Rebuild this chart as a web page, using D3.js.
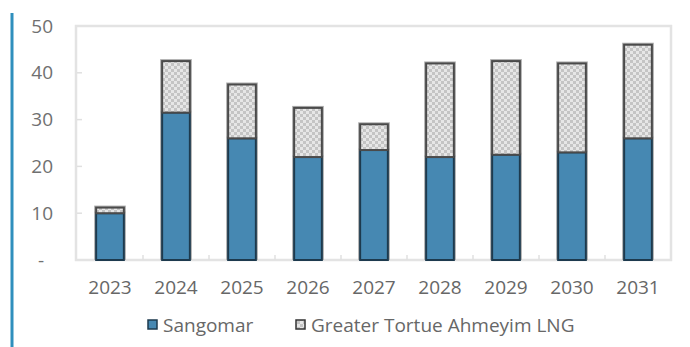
<!DOCTYPE html>
<html>
<head>
<meta charset="utf-8">
<script src="https://cdn.jsdelivr.net/npm/d3@7/dist/d3.min.js"></script>
<style>
  html, body { margin: 0; padding: 0; background: #fff; }
  svg { display: block; }
  text { font-family: "Open Sans", "Noto Sans", sans-serif; }
</style>
</head>
<body>
<svg id="chart" width="690" height="347"></svg>
<script>
// Annual production by field
const years = ["2023", "2024", "2025", "2026", "2027", "2028", "2029", "2030", "2031"];
const sangomar = [10, 31.5, 26, 22, 23.5, 22, 22.5, 23, 26];
const gta = [1.2, 11, 11.5, 10.5, 5.5, 20, 20, 19, 20];
const yTicks = [0, 10, 20, 30, 40, 50];
const seriesNames = ["Sangomar", "Greater Tortue Ahmeyim LNG"];

const svg = d3.select("#chart");
const defs = svg.append("defs");

// Fine checkerboard fill for the LNG series
const pat = defs.append("pattern")
  .attr("id", "checks")
  .attr("patternUnits", "userSpaceOnUse")
  .attr("width", 6).attr("height", 6);
pat.append("rect").attr("width", 6).attr("height", 6).attr("fill", "#e6e6e6");
pat.append("rect").attr("width", 3).attr("height", 3).attr("fill", "#c4c4c4");
pat.append("rect").attr("x", 3).attr("y", 3).attr("width", 3).attr("height", 3).attr("fill", "#c4c4c4");

// Accent rule along the left edge
svg.append("line")
  .attr("x1", 12).attr("x2", 12).attr("y1", 13).attr("y2", 347)
  .attr("stroke", "#2f8fbd").attr("stroke-width", 3);

const x = d3.scaleBand().domain(years).range([77, 671]).paddingInner(0.58).paddingOuter(0.29);
const y = d3.scaleLinear().domain([0, 50]).range([260, 26]);

// Plot frame
svg.append("rect")
  .attr("x", 76).attr("y", y(50)).attr("width", 595).attr("height", y(0) - y(50))
  .attr("fill", "none").attr("stroke", "#e3e3e3").attr("stroke-width", 2.5);

// Small inner ticks on the value axis
svg.append("g").selectAll("line").data(yTicks.slice(1, -1)).join("line")
  .attr("x1", 77).attr("x2", 82)
  .attr("y1", d => y(d)).attr("y2", d => y(d))
  .attr("stroke", "#e0e0e0").attr("stroke-width", 1.5);

// Category separators on the baseline
const step = x.step();
svg.append("g").selectAll("line").data(years.slice(1)).join("line")
  .attr("x1", d => x(d) - (step - x.bandwidth()) / 2)
  .attr("x2", d => x(d) - (step - x.bandwidth()) / 2)
  .attr("y1", 255).attr("y2", 260)
  .attr("stroke", "#e0e0e0").attr("stroke-width", 1.5);

// Value axis labels
const yAxis = d3.axisLeft(y).tickValues(yTicks).tickSize(0)
  .tickFormat(d => d === 0 ? "-" : d3.format("d")(d));
const gy = svg.append("g").attr("transform", "translate(53,0)").call(yAxis);
gy.select(".domain").remove();
gy.selectAll("text")
  .attr("x", d => d === 0 ? -9 : 0)
  .attr("fill", "#707070").style("font-size", "19px")
  .style("font-family", "'Open Sans', sans-serif");

// Category axis labels
const xAxis = d3.axisBottom(x).tickSize(0);
const gx = svg.append("g").attr("transform", "translate(0,280)").call(xAxis);
gx.select(".domain").remove();
gx.selectAll("text")
  .attr("y", 0).attr("dy", "0.75em")
  .attr("fill", "#676767").style("font-size", "19px")
  .style("font-family", "'Open Sans', sans-serif");

// Stacked bars
const data = years.map((yr, i) => ({ year: yr, sangomar: sangomar[i], gta: gta[i] }));
const stack = d3.stack().keys(["sangomar", "gta"])(data);
const fills = { sangomar: "#4688b2", gta: "url(#checks)" };
const strokes = { sangomar: "#1d3a4e", gta: "#4a4a4a" };

// soft grey halo behind each segment
stack.forEach(layer => {
  svg.append("g").selectAll("rect").data(layer).join("rect")
    .attr("x", d => x(d.data.year) - 2)
    .attr("y", d => y(d[1]) - 2)
    .attr("width", x.bandwidth() + 4)
    .attr("height", d => y(d[0]) - y(d[1]) + 2)
    .attr("fill", "#adadad");
});
stack.forEach(layer => {
  svg.append("g").selectAll("rect").data(layer).join("rect")
    .attr("x", d => x(d.data.year))
    .attr("y", d => y(d[1]))
    .attr("width", x.bandwidth())
    .attr("height", d => y(d[0]) - y(d[1]))
    .attr("fill", fills[layer.key])
    .attr("stroke", strokes[layer.key])
    .attr("stroke-width", 2);
});

// Legend
const legend = svg.append("g");
const legendItems = [
  { name: seriesNames[0], x: 148, fill: fills.sangomar, stroke: strokes.sangomar },
  { name: seriesNames[1], x: 296, fill: fills.gta, stroke: "#333" }
];
legendItems.forEach(it => {
  legend.append("rect")
    .attr("x", it.x).attr("y", 320).attr("width", 9).attr("height", 9)
    .attr("fill", it.fill).attr("stroke", it.stroke).attr("stroke-width", 1.5);
  legend.append("text")
    .attr("x", it.x + 15).attr("y", 332)
    .attr("fill", "#676767").style("font-size", "19px")
    .text(it.name);
});
</script>
</body>
</html>
